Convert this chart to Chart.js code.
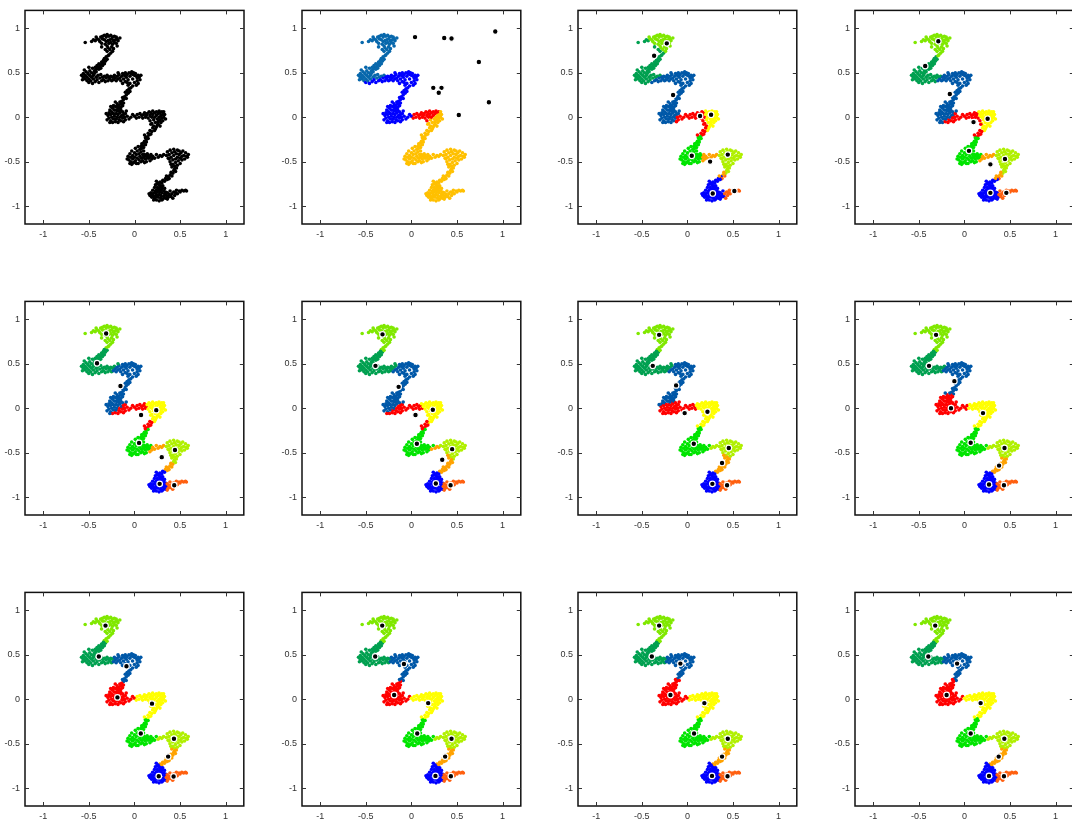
<!DOCTYPE html>
<html>
<head>
<meta charset="utf-8">
<script src="https://cdn.jsdelivr.net/npm/chart.js@4/dist/chart.umd.min.js"></script>
<style>
  html, body { margin: 0; padding: 0; background: #fff; width: 1072px; height: 823px; overflow: hidden; }
  canvas { position: absolute; }
</style>
</head>
<body>
<script>
// --- Data points (the "ZZ" shaped set) ---
const topZ = [[-0.54,0.84],[-0.47,0.85],[-0.45,0.87],[-0.43,0.86],[-0.41,0.88],[-0.39,0.87],[-0.37,0.9],[-0.35,0.91],[-0.33,0.92],[-0.31,0.9],[-0.3,0.93],[-0.28,0.91],[-0.26,0.92],[-0.24,0.9],[-0.22,0.91],[-0.2,0.9],[-0.19,0.88],[-0.21,0.87],[-0.23,0.86],[-0.25,0.88],[-0.27,0.87],[-0.29,0.86],[-0.31,0.85],[-0.33,0.87],[-0.35,0.88],[-0.38,0.85],[-0.36,0.83],[-0.32,0.82],[-0.3,0.8],[-0.28,0.83],[-0.26,0.84],[-0.24,0.82],[-0.22,0.84],[-0.2,0.83],[-0.18,0.86],[-0.25,0.79],[-0.27,0.76],[-0.23,0.77],[-0.29,0.78],[-0.26,0.72],[-0.28,0.7],[-0.3,0.74],[-0.24,0.74],[-0.32,0.76],[-0.42,0.9],[-0.36,0.79],[-0.19,0.8],[-0.16,0.89]];
const diag1 = [[-0.31,0.68],[-0.33,0.66],[-0.32,0.63],[-0.34,0.64],[-0.35,0.61],[-0.36,0.62],[-0.37,0.59],[-0.35,0.58],[-0.38,0.57],[-0.39,0.6],[-0.4,0.56],[-0.41,0.58],[-0.42,0.54],[-0.39,0.54],[-0.43,0.56],[-0.44,0.52],[-0.37,0.55],[-0.33,0.6],[-0.3,0.65],[-0.29,0.69]];
const midLeft = [[-0.58,0.47],[-0.56,0.45],[-0.56,0.49],[-0.54,0.43],[-0.54,0.47],[-0.53,0.51],[-0.52,0.41],[-0.52,0.45],[-0.51,0.49],[-0.5,0.39],[-0.5,0.43],[-0.49,0.47],[-0.49,0.52],[-0.48,0.41],[-0.47,0.45],[-0.47,0.5],[-0.46,0.38],[-0.45,0.43],[-0.45,0.47],[-0.44,0.49],[-0.43,0.4],[-0.42,0.45],[-0.42,0.51],[-0.41,0.42],[-0.4,0.47],[-0.39,0.39],[-0.38,0.44],[-0.37,0.48],[-0.36,0.41],[-0.35,0.45],[-0.34,0.42],[-0.33,0.46],[-0.32,0.4],[-0.31,0.44],[-0.3,0.47],[-0.29,0.41],[-0.28,0.45],[-0.27,0.43],[-0.26,0.46],[-0.25,0.41],[-0.55,0.53],[-0.5,0.56],[-0.46,0.55],[-0.57,0.42]];
const midRight = [[-0.24,0.45],[-0.23,0.42],[-0.22,0.47],[-0.21,0.44],[-0.2,0.41],[-0.19,0.46],[-0.18,0.43],[-0.17,0.48],[-0.16,0.44],[-0.15,0.41],[-0.14,0.46],[-0.13,0.49],[-0.12,0.43],[-0.11,0.47],[-0.1,0.5],[-0.1,0.4],[-0.09,0.45],[-0.08,0.48],[-0.07,0.42],[-0.06,0.5],[-0.05,0.46],[-0.04,0.49],[-0.03,0.51],[-0.02,0.48],[-0.01,0.5],[0.0,0.47],[0.01,0.49],[0.02,0.46],[0.03,0.44],[0.04,0.47],[0.05,0.45],[0.03,0.41],[0.04,0.38],[0.02,0.36],[0.0,0.39],[-0.02,0.35],[-0.05,0.38],[-0.07,0.36],[-0.08,0.39],[-0.02,0.43],[0.06,0.42],[0.07,0.47],[-0.13,0.38],[-0.18,0.5]];
const diag2 = [[-0.04,0.33],[-0.06,0.32],[-0.05,0.29],[-0.08,0.3],[-0.07,0.27],[-0.09,0.25],[-0.1,0.28],[-0.11,0.23],[-0.09,0.21],[-0.12,0.2],[-0.13,0.22],[-0.14,0.18],[-0.12,0.16],[-0.15,0.15],[-0.16,0.17],[-0.17,0.13],[-0.15,0.11],[-0.18,0.1],[-0.19,0.12],[-0.2,0.08],[-0.17,0.07],[-0.13,0.13]];
const lowLeft = [[-0.29,0.02],[-0.28,0.05],[-0.28,-0.01],[-0.27,0.08],[-0.26,0.03],[-0.26,-0.04],[-0.25,0.06],[-0.25,0.0],[-0.24,0.1],[-0.24,-0.06],[-0.23,0.04],[-0.23,-0.02],[-0.22,0.08],[-0.22,0.01],[-0.21,-0.05],[-0.21,0.12],[-0.2,0.04],[-0.2,-0.02],[-0.19,0.07],[-0.19,0.0],[-0.18,-0.06],[-0.18,0.03],[-0.17,0.1],[-0.17,-0.03],[-0.16,0.05],[-0.16,0.0],[-0.15,0.08],[-0.15,-0.04],[-0.14,0.02],[-0.13,-0.01],[-0.13,0.06],[-0.12,-0.05],[-0.12,0.03],[-0.11,0.0],[-0.1,-0.03],[-0.1,0.04],[-0.27,-0.06],[-0.23,0.13],[-0.19,0.15],[-0.21,0.17],[-0.31,0.04],[-0.3,-0.03],[-0.09,0.07],[-0.26,0.12]];
const lowBar = [[-0.08,0.01],[-0.06,-0.02],[-0.04,0.0],[-0.02,0.03],[0.0,0.01],[0.02,-0.01],[0.03,0.03],[0.05,0.0],[0.06,0.04],[0.08,0.02],[0.09,-0.01],[0.1,0.03],[0.11,0.05],[0.12,0.0],[0.13,0.02]];
const lowRight = [[0.14,0.04],[0.15,-0.01],[0.16,0.06],[0.17,0.02],[0.17,-0.04],[0.18,0.05],[0.19,0.0],[0.19,-0.07],[0.2,0.07],[0.2,0.03],[0.21,-0.03],[0.21,-0.1],[0.22,0.05],[0.22,0.0],[0.23,-0.06],[0.23,-0.13],[0.24,0.06],[0.24,0.02],[0.25,-0.02],[0.25,-0.09],[0.26,0.04],[0.26,-0.05],[0.27,0.07],[0.27,0.0],[0.28,-0.03],[0.28,0.05],[0.29,0.02],[0.29,-0.06],[0.3,0.06],[0.3,-0.01],[0.31,0.03],[0.31,-0.04],[0.32,0.06],[0.32,0.0],[0.22,-0.15],[0.24,-0.11],[0.18,-0.08],[0.2,-0.12],[0.26,-0.08],[0.28,-0.1],[0.33,0.03],[0.34,-0.02]];
const diag3 = [[0.19,-0.16],[0.17,-0.15],[0.18,-0.19],[0.16,-0.2],[0.15,-0.18],[0.14,-0.22],[0.15,-0.24],[0.13,-0.25],[0.12,-0.23],[0.11,-0.27],[0.13,-0.28],[0.1,-0.29],[0.12,-0.31],[0.09,-0.32],[0.08,-0.3],[0.1,-0.34],[0.07,-0.33],[0.11,-0.2]];
const lowMidLeft = [[-0.07,-0.44],[-0.06,-0.48],[-0.05,-0.41],[-0.04,-0.45],[-0.04,-0.5],[-0.03,-0.38],[-0.02,-0.43],[-0.02,-0.47],[-0.01,-0.51],[0.0,-0.4],[0.0,-0.45],[0.01,-0.35],[0.01,-0.49],[0.02,-0.42],[0.03,-0.38],[0.03,-0.46],[0.04,-0.52],[0.04,-0.33],[0.05,-0.41],[0.05,-0.48],[0.06,-0.36],[0.06,-0.44],[0.07,-0.5],[0.07,-0.39],[0.08,-0.46],[0.08,-0.35],[0.09,-0.42],[0.09,-0.49],[0.1,-0.38],[0.1,-0.45],[0.11,-0.51],[0.11,-0.42],[0.12,-0.47],[0.13,-0.44],[0.13,-0.5],[0.14,-0.41],[0.15,-0.46],[0.15,-0.43],[0.02,-0.52],[-0.05,-0.52],[-0.08,-0.47],[0.17,-0.49],[-0.03,-0.53]];
const lowMidBar = [[0.17,-0.45],[0.18,-0.42],[0.19,-0.47],[0.2,-0.44],[0.22,-0.46],[0.24,-0.42],[0.26,-0.45],[0.28,-0.43],[0.3,-0.44],[0.32,-0.42]];
const lowMidRight = [[0.35,-0.43],[0.36,-0.39],[0.37,-0.46],[0.38,-0.42],[0.39,-0.5],[0.39,-0.37],[0.4,-0.45],[0.41,-0.4],[0.42,-0.48],[0.42,-0.53],[0.43,-0.36],[0.43,-0.43],[0.44,-0.39],[0.45,-0.47],[0.45,-0.51],[0.46,-0.41],[0.47,-0.37],[0.47,-0.45],[0.48,-0.49],[0.49,-0.42],[0.49,-0.38],[0.5,-0.46],[0.5,-0.52],[0.51,-0.4],[0.52,-0.44],[0.52,-0.48],[0.53,-0.38],[0.54,-0.43],[0.55,-0.47],[0.57,-0.44],[0.58,-0.45],[0.44,-0.55],[0.47,-0.54],[0.41,-0.56],[0.38,-0.47],[0.59,-0.42],[0.56,-0.4],[0.4,-0.53]];
const diag4 = [[0.46,-0.57],[0.44,-0.58],[0.45,-0.61],[0.43,-0.6],[0.42,-0.63],[0.4,-0.62],[0.41,-0.66],[0.39,-0.65],[0.37,-0.67],[0.38,-0.69],[0.36,-0.7],[0.34,-0.69],[0.33,-0.72],[0.31,-0.71],[0.3,-0.74],[0.28,-0.73],[0.27,-0.76],[0.29,-0.77],[0.25,-0.75],[0.35,-0.66]];
const bottomBlob = [[0.17,-0.88],[0.18,-0.85],[0.19,-0.9],[0.2,-0.86],[0.2,-0.82],[0.21,-0.89],[0.21,-0.93],[0.22,-0.79],[0.22,-0.85],[0.23,-0.9],[0.23,-0.76],[0.24,-0.82],[0.24,-0.87],[0.24,-0.93],[0.25,-0.79],[0.25,-0.84],[0.26,-0.9],[0.26,-0.74],[0.27,-0.81],[0.27,-0.87],[0.27,-0.94],[0.28,-0.78],[0.28,-0.84],[0.29,-0.91],[0.29,-0.88],[0.3,-0.8],[0.3,-0.85],[0.31,-0.92],[0.31,-0.77],[0.32,-0.83],[0.32,-0.89],[0.33,-0.86],[0.33,-0.8],[0.34,-0.91],[0.34,-0.84],[0.35,-0.88],[0.26,-0.83],[0.22,-0.91],[0.29,-0.82],[0.25,-0.88],[0.23,-0.83],[0.3,-0.93],[0.19,-0.87],[0.16,-0.86],[0.24,-0.72],[0.36,-0.92]];
const bottomTail = [[0.36,-0.85],[0.37,-0.9],[0.38,-0.87],[0.39,-0.83],[0.4,-0.89],[0.41,-0.86],[0.42,-0.91],[0.43,-0.84],[0.44,-0.88],[0.45,-0.85],[0.46,-0.82],[0.47,-0.86],[0.49,-0.83],[0.5,-0.84],[0.52,-0.82],[0.54,-0.83],[0.56,-0.82],[0.57,-0.83]];

const points = [].concat(topZ, diag1, midLeft, midRight, diag2, lowLeft, lowBar, lowRight,
  diag3, lowMidLeft, lowMidBar, lowMidRight, diag4, bottomBlob, bottomTail);

// --- Centroids per step (panel 1 has none) ---
const c1 = [];
const c2 = [[0.04,0.9],[0.36,0.89],[0.44,0.885],[0.92,0.963],[0.74,0.62],[0.24,0.33],[0.33,0.33],[0.30,0.275],[0.85,0.168],[0.52,0.025]];
const c3 = [[-0.226,0.83],[-0.365,0.69],[-0.157,0.25],[0.139,0.014],[0.26,0.028],[0.048,-0.433],[0.249,-0.499],[0.443,-0.42],[0.278,-0.857],[0.515,-0.83]];
const c4 = [[-0.286,0.853],[-0.43,0.575],[-0.16,0.26],[0.10,-0.055],[0.255,-0.018],[0.05,-0.378],[0.285,-0.53],[0.445,-0.47],[0.285,-0.85],[0.46,-0.85]];
const c5 = [[-0.31,0.84],[-0.41,0.505],[-0.153,0.25],[0.073,-0.077],[0.24,-0.022],[0.051,-0.39],[0.30,-0.55],[0.445,-0.47],[0.277,-0.85],[0.437,-0.865]];
const c6 = [[-0.317,0.83],[-0.394,0.476],[-0.14,0.24],[0.045,-0.077],[0.235,-0.018],[0.06,-0.40],[0.338,-0.58],[0.447,-0.46],[0.268,-0.846],[0.43,-0.865]];
const c7 = [[-0.31,0.824],[-0.38,0.476],[-0.124,0.256],[-0.03,-0.055],[0.22,-0.04],[0.07,-0.40],[0.38,-0.615],[0.454,-0.447],[0.274,-0.85],[0.435,-0.865]];
const c8 = [[-0.311,0.824],[-0.388,0.476],[-0.11,0.304],[-0.147,0.0],[0.204,-0.055],[0.069,-0.388],[0.38,-0.645],[0.44,-0.447],[0.27,-0.857],[0.434,-0.865]];
const c9 = [[-0.317,0.827],[-0.39,0.48],[-0.087,0.37],[-0.186,0.02],[0.193,-0.05],[0.07,-0.385],[0.37,-0.645],[0.434,-0.444],[0.267,-0.865],[0.43,-0.868]];
const c10 = [[-0.32,0.827],[-0.397,0.48],[-0.082,0.395],[-0.189,0.047],[0.184,-0.044],[0.064,-0.385],[0.37,-0.645],[0.44,-0.444],[0.264,-0.862],[0.433,-0.866]];
const c11 = [[-0.31,0.827],[-0.39,0.48],[-0.077,0.40],[-0.186,0.047],[0.186,-0.044],[0.073,-0.385],[0.38,-0.645],[0.443,-0.444],[0.27,-0.862],[0.44,-0.866]];
const c12 = [[-0.32,0.827],[-0.396,0.48],[-0.08,0.40],[-0.195,0.047],[0.178,-0.044],[0.069,-0.385],[0.376,-0.645],[0.438,-0.444],[0.27,-0.862],[0.434,-0.866]];
const steps = [c1, c2, c3, c4, c5, c6, c7, c8, c9, c10, c11, c12];

// cluster colours by centroid index
const clusterColors = ['#80e800', '#00a050', '#0058a8', '#ff0000', '#ffff00', '#00e400', '#ffa200', '#b0f000', '#0000ff', '#ff6010'];
const firstStepColors = ['#0868ac', '#000000', '#000000', '#000000', '#000000', '#0000ff', '#000000', '#ff0000', '#000000', '#ffc000'];

const tickVals = [-1, -0.5, 0, 0.5, 1];

// --- Layout of the 4x3 grid (plot area corners) ---
const colLeft = [24.5, 301.8, 578.1, 854.9];
const rowTop = [6.1, 296.8, 588.1];
const PAD_L = 26, PAD_T = 6, PAD_R = 5, PAD_B = 18;
const AREA_W = 219, AREA_H = 218.4;

// frame with inward ticks on all four sides, gnuplot style
const framePlugin = {
  id: 'frame',
  afterDraw(chart) {
    const { ctx, chartArea: a, scales: { x, y } } = chart;
    ctx.save();
    ctx.strokeStyle = '#111';
    ctx.lineWidth = 1.5;
    ctx.strokeRect(a.left, a.top, a.right - a.left, a.bottom - a.top);
    ctx.lineWidth = 1;
    ctx.strokeStyle = '#333';
    ctx.beginPath();
    tickVals.forEach(v => {
      const px = Math.round(x.getPixelForValue(v)) + 0.5;
      const py = Math.round(y.getPixelForValue(v)) + 0.5;
      ctx.moveTo(px, a.bottom); ctx.lineTo(px, a.bottom - 4);
      ctx.moveTo(px, a.top); ctx.lineTo(px, a.top + 4);
      ctx.moveTo(a.left, py); ctx.lineTo(a.left + 4, py);
      ctx.moveTo(a.right, py); ctx.lineTo(a.right - 4, py);
    });
    ctx.stroke();
    ctx.restore();
  }
};

function nearest(p, cents) {
  let best = 0, bd = Infinity;
  cents.forEach((c, i) => {
    const d = (p[0] - c[0]) ** 2 + (p[1] - c[1]) ** 2;
    if (d < bd) { bd = d; best = i; }
  });
  return best;
}

function axis(fit) {
  return {
    type: 'linear', min: -1.2, max: 1.2,
    grid: { display: false, drawTicks: false },
    border: { display: false },
    ticks: {
      padding: 5, color: '#333',
      font: { family: "'Liberation Sans', Arial, sans-serif", size: 9 },
      callback: v => String(v)
    },
    afterBuildTicks: s => { s.ticks = tickVals.map(v => ({ value: v })); },
    afterFit: fit
  };
}

steps.forEach((cents, i) => {
  const col = i % 4, row = Math.floor(i / 4);
  const canvas = document.createElement('canvas');
  canvas.width = PAD_L + AREA_W + PAD_R;
  canvas.height = Math.round(PAD_T + AREA_H + PAD_B);
  canvas.style.left = (colLeft[col] - PAD_L) + 'px';
  canvas.style.top = (rowTop[row] - PAD_T) + 'px';
  document.body.appendChild(canvas);

  const palette = i === 1 ? firstStepColors : clusterColors;
  const colors = points.map(p => cents.length ? palette[nearest(p, cents)] : '#000000');

  new Chart(canvas, {
    type: 'scatter',
    data: {
      datasets: [
        {
          data: cents.map(c => ({ x: c[0], y: c[1] })),
          backgroundColor: '#000000',
          borderColor: '#ffffff',
          borderWidth: 1.2,
          pointRadius: 2.8,
          order: 0
        },
        {
          data: points.map(p => ({ x: p[0], y: p[1] })),
          backgroundColor: colors,
          borderWidth: 0,
          pointRadius: 1.8,
          order: 1
        }
      ]
    },
    options: {
      responsive: false,
      animation: false,
      events: [],
      layout: { padding: { left: 0, top: PAD_T, right: PAD_R, bottom: 0 } },
      plugins: { legend: { display: false }, tooltip: { enabled: false } },
      scales: {
        x: axis(s => { s.height = PAD_B; }),
        y: axis(s => { s.width = PAD_L; })
      }
    },
    plugins: [framePlugin]
  });
});
</script>
</body>
</html>
